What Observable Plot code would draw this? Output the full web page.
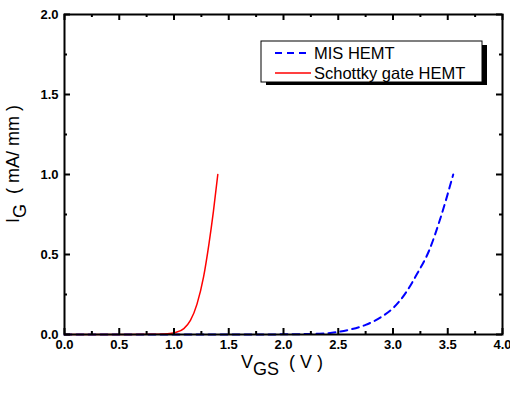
<!DOCTYPE html>
<html>
<head>
<meta charset="utf-8">
<script src="https://cdn.jsdelivr.net/npm/d3@7"></script>
<script src="https://cdn.jsdelivr.net/npm/@observablehq/plot@0.6"></script>
<style>
  html, body { margin: 0; padding: 0; background: #fff; overflow: hidden; width: 510px; height: 394px; }
  svg { display: block; }
</style>
</head>
<body>
<div id="chart"></div>
<script>
// Schottky gate HEMT (red, solid)
const schottkyV = [0, 0.3, 0.6, 0.8, 0.9, 0.96, 1.01, 1.09, 1.15, 1.21, 1.27, 1.32, 1.36, 1.40];
const schottkyI = [0, 0, 0, 0.001, 0.003, 0.006, 0.012, 0.037, 0.088, 0.19, 0.36, 0.57, 0.77, 1.0];
// MIS HEMT (blue, dashed)
const misV = [0, 0.5, 1.0, 1.5, 2.0, 2.33, 2.49, 2.61, 2.75, 2.89, 3.01, 3.11, 3.22, 3.33, 3.43, 3.55];
const misI = [0, 0, 0, 0, 0.001, 0.005, 0.015, 0.031, 0.06, 0.108, 0.171, 0.254, 0.379, 0.525, 0.72, 1.0];

const xMajor = [0, 0.5, 1.0, 1.5, 2.0, 2.5, 3.0, 3.5, 4.0];
const xMinor = [0.25, 0.75, 1.25, 1.75, 2.25, 2.75, 3.25, 3.75];
const yMajor = [0, 0.5, 1.0, 1.5, 2.0];
const yMinor = [0.25, 0.75, 1.25, 1.75];

const seriesNames = ["MIS HEMT", "Schottky gate HEMT"];
const seriesColors = ["#0000ff", "#ff0000"];

const schottky = schottkyV.map((v, i) => ({v, i: schottkyI[i]}));
const mis = misV.map((v, i) => ({v, i: misI[i]}));

const fmt = d => d.toFixed(1);
const font = "'Liberation Sans', Arial, sans-serif";

const W = 510, H = 394, ML = 64, MR = 8, MT = 14, MB = 60;
const PW = W - ML - MR, PH = H - MT - MB;
const major = 6, minor = 3;
const tk = {stroke: "#000", strokeWidth: 2};

const svg = Plot.plot({
  width: W,
  height: H,
  marginLeft: ML,
  marginRight: MR,
  marginTop: MT,
  marginBottom: MB,
  style: {fontFamily: font, background: "#fff", color: "#000"},
  x: {domain: [0, 4]},
  y: {domain: [0, 2]},
  marks: [
    Plot.line(mis, {x: "v", y: "i", stroke: seriesColors[0], strokeWidth: 2, strokeDasharray: "7,5", curve: "monotone-x"}),
    Plot.line(schottky, {x: "v", y: "i", stroke: seriesColors[1], strokeWidth: 1.5, curve: "monotone-x"}),
    Plot.axisX(xMajor, {anchor: "bottom", tickSize: 0, tickPadding: 5, tickFormat: fmt, fontSize: 13, fontWeight: "bold", label: null}),
    Plot.axisY(yMajor, {anchor: "left", tickSize: 0, tickPadding: 6, tickFormat: fmt, fontSize: 13, fontWeight: "bold", label: null}),
    Plot.ruleX(xMajor, {x: d => d, insetTop: PH - major, ...tk}),
    Plot.ruleX(xMinor, {x: d => d, insetTop: PH - minor, ...tk}),
    Plot.ruleX(xMajor, {x: d => d, insetBottom: PH - major, ...tk}),
    Plot.ruleX(xMinor, {x: d => d, insetBottom: PH - minor, ...tk}),
    Plot.ruleY(yMajor, {y: d => d, insetRight: PW - major, ...tk}),
    Plot.ruleY(yMinor, {y: d => d, insetRight: PW - minor, ...tk}),
    Plot.ruleY(yMajor, {y: d => d, insetLeft: PW - major, ...tk}),
    Plot.ruleY(yMinor, {y: d => d, insetLeft: PW - minor, ...tk}),
    Plot.frame({stroke: "#000", strokeWidth: 2})
  ]
});

document.getElementById("chart").appendChild(svg);

const s = d3.select(svg);

// X axis title
const xt = s.append("text")
  .attr("x", 282).attr("y", 368)
  .attr("text-anchor", "middle")
  .attr("font-family", font).attr("font-size", 18).attr("fill", "#000");
xt.append("tspan").text("V");
xt.append("tspan").attr("dy", 7).text("GS");
xt.append("tspan").attr("dy", -7).text("  ( V )");

// Y axis title
const yt = s.append("text")
  .attr("transform", "translate(19,164) rotate(-90)")
  .attr("text-anchor", "middle")
  .attr("font-family", font).attr("font-size", 18).attr("fill", "#000");
yt.append("tspan").text("I");
yt.append("tspan").attr("dy", 7).text("G");
yt.append("tspan").attr("dy", -7).text("  ( mA/ mm )");

// Legend
const lg = s.append("g").attr("text-anchor", "start");
lg.append("rect").attr("x", 266).attr("y", 45).attr("width", 221).attr("height", 40).attr("fill", "#000");
lg.append("rect").attr("x", 261).attr("y", 41).attr("width", 221).attr("height", 41)
  .attr("fill", "#fff").attr("stroke", "#000").attr("stroke-width", 1);
seriesNames.forEach((name, k) => {
  const yy = 53 + k * 20;
  lg.append("line").attr("x1", 275).attr("x2", 311).attr("y1", yy).attr("y2", yy)
    .attr("stroke", seriesColors[k]).attr("stroke-width", k === 0 ? 2 : 1.5)
    .attr("stroke-dasharray", k === 0 ? "7,5" : null);
  lg.append("text").attr("x", 314).attr("y", yy + 6)
    .attr("text-anchor", "start")
    .attr("font-family", font).attr("font-size", 16.5).attr("fill", "#000").text(name);
});
</script>
</body>
</html>
